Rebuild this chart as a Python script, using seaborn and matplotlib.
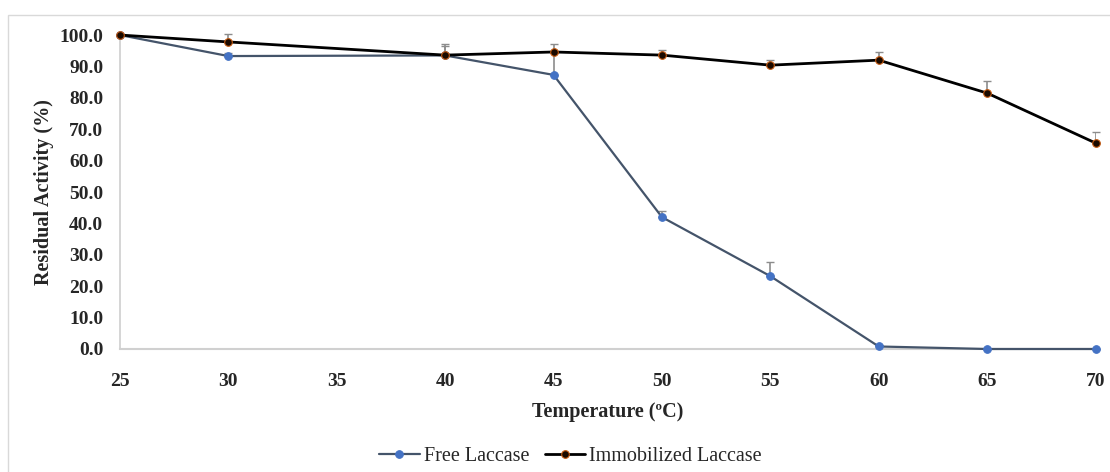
import numpy as np
import pandas as pd
import seaborn as sns
import matplotlib.pyplot as plt
from matplotlib.patches import Rectangle

temps = [25, 30, 40, 45, 50, 55, 60, 65, 70]
free = [100.0, 93.3, 93.5, 87.3, 42.0, 23.2, 0.8, 0.0, 0.0]
free_err = [0.0, 1.0, 3.5, 7.0, 2.0, 4.5, 0.5, 0.0, 0.0]
immob = [100.0, 97.8, 93.6, 94.6, 93.6, 90.4, 92.0, 81.5, 65.6]
immob_err = [0.0, 2.5, 3.0, 2.5, 1.5, 1.8, 2.5, 3.8, 3.5]
xticks = [25, 30, 35, 40, 45, 50, 55, 60, 65, 70]

df = pd.DataFrame({"Temperature": temps * 2,
                   "Activity": free + immob,
                   "Series": ["Free Laccase"] * len(temps) + ["Immobilized Laccase"] * len(temps)})

sns.set_theme(style="white")
plt.rcParams['font.family'] = ['Liberation Serif', 'DejaVu Serif']

fig = plt.figure(figsize=(11.1, 4.72), dpi=100)
ax = fig.add_axes([0.108, 0.2606, 0.879, 0.6652])
fig.patches.append(Rectangle((0.007, -0.01), 1.0, 0.978, transform=fig.transFigure,
                             fill=False, edgecolor='#d9d9d9', lw=1))

# upper error bars only (gray, capped)
zeros = [0] * len(temps)
ax.errorbar(temps, free, yerr=[zeros, free_err], fmt='none', ecolor='#8c8c8c', elinewidth=1.2, capsize=3, zorder=1)
ax.errorbar(temps, immob, yerr=[zeros, immob_err], fmt='none', ecolor='#8c8c8c', elinewidth=1.2, capsize=3, zorder=1)

sns.lineplot(data=df[df.Series == "Free Laccase"], x="Temperature", y="Activity", ax=ax,
             color='#44546A', lw=1.6, marker='o', markersize=5.5, markerfacecolor='#4472C4',
             markeredgecolor='#4472C4', label="Free Laccase", zorder=3)
sns.lineplot(data=df[df.Series == "Immobilized Laccase"], x="Temperature", y="Activity", ax=ax,
             color='black', lw=2.0, marker='o', markersize=5.5, markerfacecolor='#1a0a00',
             markeredgecolor='#C55A11', markeredgewidth=0.8, label="Immobilized Laccase", zorder=4)

ax.set_xlim(25, 70)
ax.set_ylim(0, 100)
ax.set_xticks(xticks)
ax.set_yticks(np.arange(0, 101, 10))
ax.set_yticklabels([f"{v:.1f}" for v in np.arange(0, 101, 10)])
ax.tick_params(axis='both', labelsize=14, length=0)
ax.tick_params(axis='y', pad=12)
ax.tick_params(axis='x', pad=17)
for lab in ax.get_xticklabels() + ax.get_yticklabels():
    lab.set_fontweight('bold')

for s in ['top', 'right']:
    ax.spines[s].set_visible(False)
ax.spines['left'].set_color('#d0d0d0')
ax.spines['bottom'].set_color('#d0d0d0')
ax.spines['bottom'].set_linewidth(1.5)
for ln in ax.lines:
    ln.set_clip_on(False)

ax.set_xlabel("Temperature (ºC)", fontsize=14.5, fontweight='bold', labelpad=9)
ax.set_ylabel("Residual Activity (%)", fontsize=14.5, fontweight='bold', labelpad=4)

ax.legend(loc='center', bbox_to_anchor=(0.462, -0.342), ncol=2, frameon=False,
          fontsize=14.5, handlelength=2.0, columnspacing=0.8, handletextpad=0.2)

fig.savefig("out.png", dpi=100)
